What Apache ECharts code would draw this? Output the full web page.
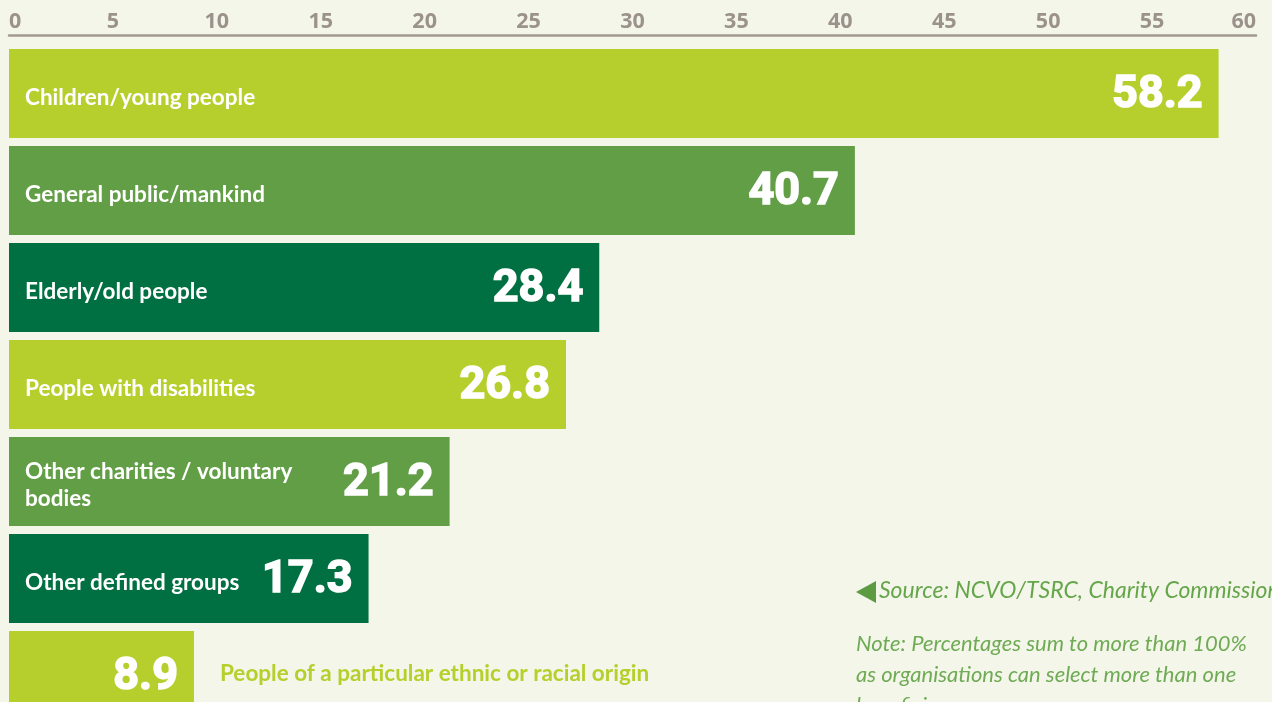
<!DOCTYPE html>
<html>
<head>
<meta charset="utf-8">
<script src="https://cdn.jsdelivr.net/npm/echarts@6/dist/echarts.min.js"></script>
<style>
  html, body { margin: 0; padding: 0; background: #f4f6ea; overflow: hidden; }
  /* the lowest bar runs past the bottom edge of the page */
  #chart { width: 1272px; height: 740px; }
</style>
</head>
<body>
<div id="chart"></div>
<script>
// Beneficiary groups served by charities (% of organisations)
const categories = [
  'Children/young people',
  'General public/mankind',
  'Elderly/old people',
  'People with disabilities',
  'Other charities / voluntary\nbodies',
  'Other defined groups',
  'People of a particular ethnic or racial origin'
];
const values = [58.2, 40.7, 28.4, 26.8, 21.2, 17.3, 8.9];
const barColors = ['#b6cf2d', '#629e45', '#006f41', '#b6cf2d', '#629e45', '#006f41', '#b6cf2d'];
const tickValues = [0, 5, 10, 15, 20, 25, 30, 35, 40, 45, 50, 55, 60];

const sourceText = 'Source: NCVO/TSRC, Charity Commission';
const noteLines = [
  'Note: Percentages sum to more than 100%',
  'as organisations can select more than one',
  'beneficiary group'
];

const chart = echarts.init(document.getElementById('chart'), null, { renderer: 'canvas' });

const nameData = values.map((v, i) => {
  const item = { value: v, itemStyle: { color: barColors[i] } };
  if (v < 12) {
    // short bar: its name sits to the right of the bar, in the bar colour
    item.label = {
      position: 'right',
      distance: 26,
      color: barColors[i],
      offset: [0, -2]
    };
  }
  return item;
});

const option = {
  backgroundColor: '#f4f6ea',
  animation: false,
  grid: { left: 9, right: 16, top: 45, height: 679 },
  xAxis: {
    type: 'value',
    position: 'top',
    min: tickValues[0],
    max: tickValues[tickValues.length - 1],
    interval: tickValues[1] - tickValues[0],
    offset: 10,
    axisLine: { show: true, lineStyle: { color: '#a29a91', width: 2.5 } },
    axisTick: { show: false },
    splitLine: { show: false },
    axisLabel: {
      color: '#9b938b',
      fontFamily: 'Open Sans',
      fontWeight: 'bold',
      fontSize: 21.5,
      margin: 2,
      alignMinLabel: 'left',
      alignMaxLabel: 'right'
    }
  },
  yAxis: {
    type: 'category',
    data: categories,
    inverse: true,
    show: false
  },
  series: [
    {
      type: 'bar',
      data: nameData,
      barWidth: 89,
      barGap: '-100%',
      label: {
        show: true,
        position: 'insideLeft',
        distance: 16,
        offset: [0, 4],
        color: '#ffffff',
        fontFamily: 'Lato',
        fontWeight: 700,
        fontSize: 22.5,
        lineHeight: 27,
        formatter: p => categories[p.dataIndex]
      }
    },
    {
      type: 'bar',
      data: values,
      barWidth: 89,
      barGap: '-100%',
      itemStyle: { color: 'rgba(0,0,0,0)' },
      silent: true,
      label: {
        show: true,
        position: 'insideRight',
        distance: 16,
        offset: [0, 2],
        color: '#ffffff',
        fontFamily: 'Roboto',
        fontWeight: 'bold',
        fontSize: 45,
        textBorderColor: '#ffffff',
        textBorderWidth: 1.6,
        formatter: p => p.value.toFixed(1)
      }
    }
  ],
  graphic: [
    {
      type: 'polygon',
      shape: { points: [[856, 592], [876, 581], [876, 603]] },
      style: { fill: '#5c9b41' }
    },
    {
      type: 'text',
      left: 879,
      top: 579,
      style: {
        text: sourceText,
        fill: '#66a64b',
        font: 'italic 400 23px Lato'
      }
    },
    {
      type: 'text',
      left: 856,
      top: 628,
      style: {
        text: noteLines.join('\n'),
        fill: '#6fab55',
        font: 'italic 400 22px Lato',
        lineHeight: 31
      }
    }
  ]
};

chart.setOption(option);
</script>
</body>
</html>
